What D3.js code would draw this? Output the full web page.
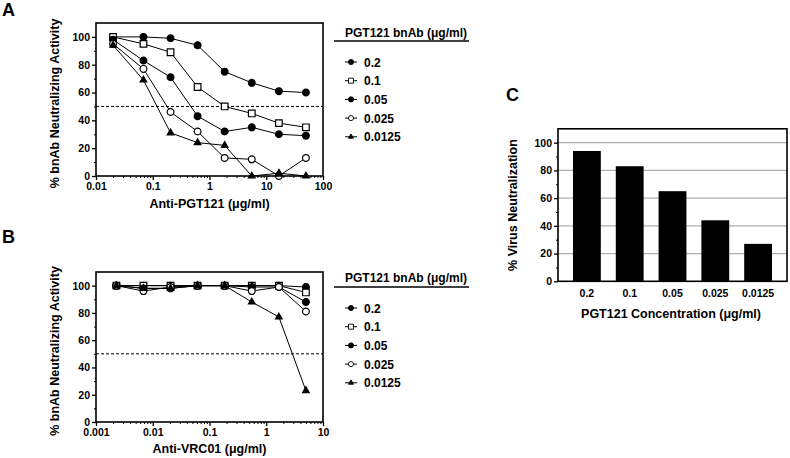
<!DOCTYPE html>
<html><head><meta charset="utf-8">
<script src="https://cdn.jsdelivr.net/npm/d3@7"></script>
<style>body{margin:0;background:#fff}svg{display:block;font-family:"Liberation Sans",Arial,sans-serif;font-weight:bold}</style>
</head><body><svg id="c" width="790" height="458"></svg>
<script>
// ---- data ----
const seriesNames = ["0.2", "0.1", "0.05", "0.025", "0.0125"];
const seriesMarkers = ["circleFilled", "squareOpen", "circleFilled", "circleOpen", "triangleFilled"];
const concA = [0.02, 0.0686, 0.206, 0.617, 1.85, 5.56, 16.7, 50];
const valuesA = [
  [100, 100, 99, 94, 75, 67, 61, 60],
  [100, 95, 89, 64, 50, 45, 38, 35],
  [98, 83, 71, 43, 32, 35, 30, 29],
  [95, 77, 46, 32, 13, 12, 0, 13],
  [94, 69, 31, 24, 22, 0, 2, 0]
];
const concB = [0.00229, 0.00686, 0.0206, 0.0617, 0.185, 0.556, 1.67, 5];
const valuesB = [
  [100, 100, 100, 100, 100, 100, 100, 99],
  [100, 100, 100, 100, 100, 100, 100, 95],
  [100, 98, 98, 100, 100, 99, 99, 88],
  [100, 96, 99, 100, 100, 96, 99, 81],
  [100, 98, 98, 100, 100, 88, 77, 23]
];
const barCategories = ["0.2", "0.1", "0.05", "0.025", "0.0125"];
const barValues = [94, 83, 65, 44, 27];
const yTicks = [0, 20, 40, 60, 80, 100];
const xTicksA = [0.01, 0.1, 1, 10, 100];
const xTickLabelsA = ["0.01", "0.1", "1", "10", "100"];
const xTicksB = [0.001, 0.01, 0.1, 1, 10];
const xTickLabelsB = ["0.001", "0.01", "0.1", "1", "10"];

const svg = d3.select("#c");
const TICK_FS = 10.5, TITLE_FS = 12.5, LEG_FS = 12;

function marker(g, type, x, y) {
  let sym;
  if (type.startsWith("circle")) { sym = d3.symbol(d3.symbolCircle, 36); }
  else if (type.startsWith("square")) { sym = d3.symbol(d3.symbolSquare, 44); }
  else { sym = d3.symbol(d3.symbolTriangle, 19); }
  const fill = type.endsWith("Open") ? "#fff" : "#000";
  g.append("path").attr("d", sym()).attr("transform", `translate(${x},${y})`)
    .attr("fill", fill).attr("stroke", "#000").attr("stroke-width", 1.2);
}

function frame(g, x0, x1, y0, y1) {
  g.append("rect").attr("x", x0).attr("y", y1).attr("width", x1 - x0).attr("height", y0 - y1)
    .attr("fill", "none").attr("stroke", "#000").attr("stroke-width", 1.6);
}

function styleText(sel) {
  sel.attr("font-size", TICK_FS).attr("font-weight", "bold").attr("font-family", "Liberation Sans, Arial").attr("fill", "#000");
}

function yAxis(g, y, xLeft) {
  const ax = d3.axisLeft(y).tickValues(yTicks).tickSize(4).tickPadding(2);
  const ga = g.append("g").attr("transform", `translate(${xLeft},0)`).call(ax);
  ga.select(".domain").remove();
  ga.selectAll("line").attr("stroke-width", 1.3);
  styleText(ga.selectAll("text"));
  const minor = d3.axisLeft(y).tickValues([10, 30, 50, 70, 90]).tickSize(2).tickFormat("");
  const gm = g.append("g").attr("transform", `translate(${xLeft},0)`).call(minor);
  gm.select(".domain").remove();
}

function xLogAxis(g, x, yBottom, ticks, labels) {
  const ax = d3.axisBottom(x).tickValues(ticks).tickSize(4).tickPadding(3)
    .tickFormat((d, i) => labels[i]);
  const ga = g.append("g").attr("transform", `translate(0,${yBottom})`).call(ax);
  ga.select(".domain").remove();
  ga.selectAll("line").attr("stroke-width", 1.3);
  styleText(ga.selectAll("text"));
  const minorVals = [];
  for (let i = 0; i < ticks.length - 1; i++) for (let k = 2; k <= 9; k++) minorVals.push(ticks[i] * k);
  const mn = d3.axisBottom(x).tickValues(minorVals).tickSize(2).tickFormat("");
  const gm = g.append("g").attr("transform", `translate(0,${yBottom})`).call(mn);
  gm.select(".domain").remove();
}

function linePanel(conc, values, domain, xr, yr, ticks, labels, xTitle, xTitleY, yTitleX, letter, letterY) {
  const g = svg.append("g");
  const x = d3.scaleLog().domain(domain).range(xr);
  const y = d3.scaleLinear().domain([0, 110]).range(yr);
  g.append("line").attr("x1", xr[0]).attr("x2", xr[1]).attr("y1", y(50)).attr("y2", y(50))
    .attr("stroke", "#000").attr("stroke-width", 1).attr("stroke-dasharray", "3,2");
  const line = d3.line().x((d, i) => x(conc[i])).y(d => y(d));
  values.forEach(vals => {
    g.append("path").attr("d", line(vals)).attr("fill", "none").attr("stroke", "#000").attr("stroke-width", 1);
  });
  values.forEach((vals, s) => {
    vals.forEach((v, i) => marker(g, seriesMarkers[s], x(conc[i]), y(v)));
  });
  frame(g, xr[0], xr[1], yr[0], yr[1]);
  yAxis(g, y, xr[0]);
  xLogAxis(g, x, yr[0], ticks, labels);
  g.append("text").attr("x", (xr[0] + xr[1]) / 2).attr("y", xTitleY).attr("text-anchor", "middle")
    .attr("font-size", TITLE_FS).text(xTitle);
  g.append("text").attr("transform", `translate(${yTitleX},${(yr[0] + yr[1]) / 2 + 4}) rotate(-90)`)
    .attr("text-anchor", "middle").attr("font-size", TITLE_FS).text("% bnAb Neutralizing Activity");
  g.append("text").attr("x", 2).attr("y", letterY).attr("font-size", 18).text(letter);
}

function legend(titleY, lineY, itemY0, step) {
  const g = svg.append("g");
  g.append("text").attr("x", 406).attr("y", titleY).attr("text-anchor", "middle").attr("font-size", LEG_FS).text("PGT121 bnAb (μg/ml)");
  g.append("line").attr("x1", 334).attr("x2", 469).attr("y1", lineY).attr("y2", lineY).attr("stroke", "#000").attr("stroke-width", 1.4);
  seriesNames.forEach((n, i) => {
    const yy = itemY0 + i * step;
    g.append("line").attr("x1", 345).attr("x2", 357).attr("y1", yy).attr("y2", yy).attr("stroke", "#000").attr("stroke-width", 1);
    const mg = g.append("g").attr("transform", `translate(351,${yy}) scale(0.75)`);
    marker(mg, seriesMarkers[i], 0, 0);
    g.append("text").attr("x", 364).attr("y", yy + 4.5).attr("font-size", LEG_FS).text(n);
  });
}

linePanel(concA, valuesA, [0.01, 100], [96, 323], [176, 23], xTicksA, xTickLabelsA, "Anti-PGT121 (μg/ml)", 208, 59, "A", 16);
legend(37, 41, 62, 18.7);
linePanel(concB, valuesB, [0.001, 10], [96, 323], [422, 272], xTicksB, xTickLabelsB, "Anti-VRC01 (μg/ml)", 453, 59, "B", 243);
legend(282, 287, 308, 18.7);

// ---- Panel C ----
(function () {
  const g = svg.append("g");
  const xr = [558, 787], yr = [281.3, 128.8];
  const x = d3.scaleBand().domain(barCategories).range(xr).paddingInner(0.35).paddingOuter(0.35);
  const y = d3.scaleLinear().domain([0, 110]).range(yr);
  yTicks.filter(d => d > 0).forEach(t => {
    g.append("line").attr("x1", xr[0]).attr("x2", xr[1]).attr("y1", y(t)).attr("y2", y(t))
      .attr("stroke", "#b0b0b0").attr("stroke-width", 1.3);
  });
  g.selectAll("rect.bar").data(barValues).join("rect").attr("class", "bar")
    .attr("x", (d, i) => x(barCategories[i])).attr("width", x.bandwidth())
    .attr("y", d => y(d)).attr("height", d => y(0) - y(d)).attr("fill", "#000");
  frame(g, xr[0], xr[1], yr[0], yr[1]);
  yAxis(g, y, xr[0]);
  const ax = d3.axisBottom(x).tickSize(0).tickPadding(8);
  const ga = g.append("g").attr("transform", `translate(0,${yr[0]})`).call(ax);
  ga.select(".domain").remove();
  styleText(ga.selectAll("text"));
  g.append("text").attr("x", 671).attr("y", 318).attr("text-anchor", "middle").attr("font-size", TITLE_FS).text("PGT121 Concentration (μg/ml)");
  g.append("text").attr("transform", `translate(517,${(yr[0] + yr[1]) / 2}) rotate(-90)`)
    .attr("text-anchor", "middle").attr("font-size", TITLE_FS).text("% Virus Neutralization");
  g.append("text").attr("x", 506).attr("y", 101).attr("font-size", 18).text("C");
})();
</script></body></html>
